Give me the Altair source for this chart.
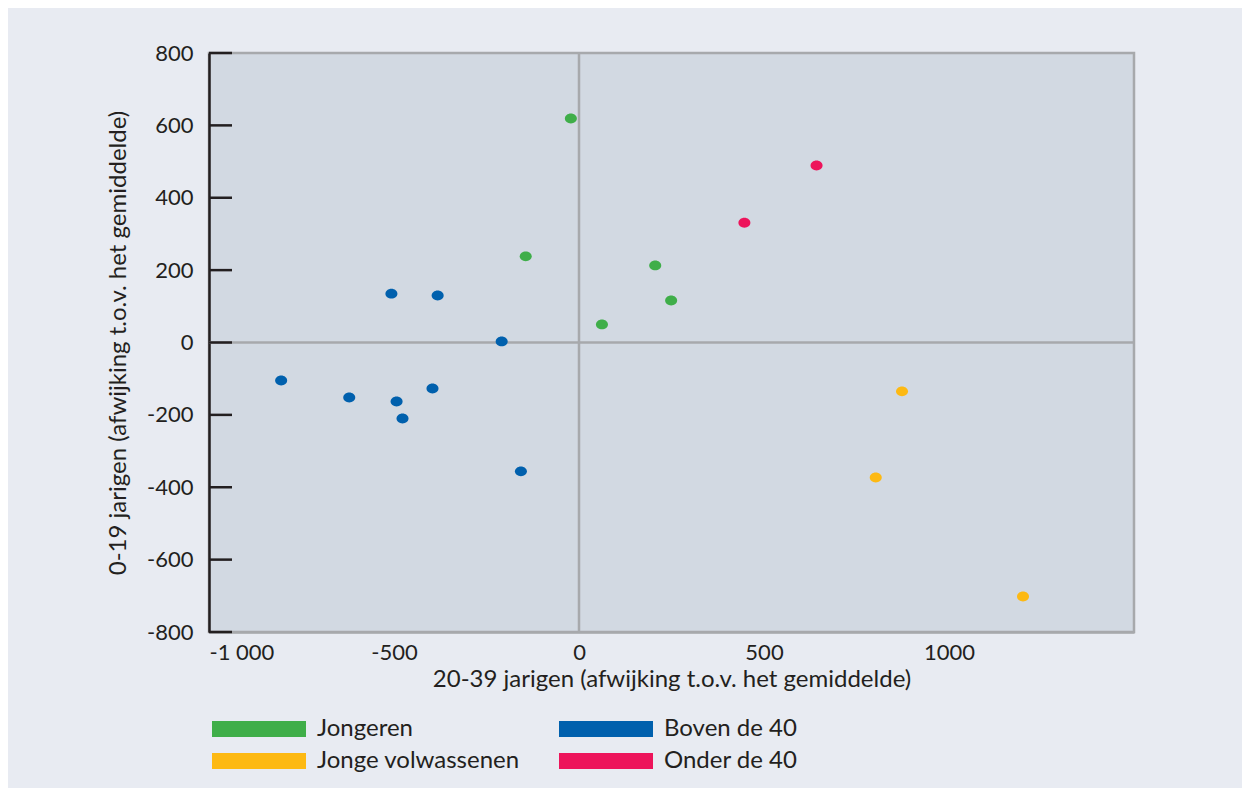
import altair as alt
import pandas as pd

groups = ["Jongeren", "Jonge volwassenen", "Boven de 40", "Onder de 40"]
colors = ["#3fae49", "#fdb913", "#0060ad", "#ed145b"]

jong_x = [-22, -144, 206, 249, 62]
jong_y = [619, 238, 213, 116, 50]
boven_x = [-805, -621, -507, -382, -209, -396, -493, -477, -157]
boven_y = [-105, -152, 135, 130, 3, -127, -163, -210, -356]
onder_x = [447, 642]
onder_y = [331, 489]
jv_x = [873, 802, 1200]
jv_y = [-135, -373, -702]

x_ticks = [-1000, -500, 0, 500, 1000]
y_ticks = [-800, -600, -400, -200, 0, 200, 400, 600, 800]

rows = []
for g, xs, ys in [("Jongeren", jong_x, jong_y), ("Boven de 40", boven_x, boven_y),
                  ("Onder de 40", onder_x, onder_y), ("Jonge volwassenen", jv_x, jv_y)]:
    for a, b in zip(xs, ys):
        rows.append({"x": a, "y": b, "groep": g})
df = pd.DataFrame(rows)

FONT = "Lato"
TXT = "#231f20"
GRAY = "#a7a9ac"

xscale = alt.Scale(domain=[-1000, 1500], nice=False, zero=False)
yscale = alt.Scale(domain=[-800, 800], nice=False, zero=False)

ellipse = "M-1,0A1,0.82,0,1,1,1,0A1,0.82,0,1,1,-1,0Z"
legend_rect = "M-5.875,-1H5.875V1H-5.875Z"
lbl = "datum.value == -1000 ? '-1 000' : '' + datum.value"

points = alt.Chart(df).mark_point(filled=True, opacity=1, shape=ellipse, size=144).encode(
    x=alt.X("x:Q", scale=xscale,
            title="20-39 jarigen (afwijking t.o.v. het gemiddelde)",
            axis=alt.Axis(values=x_ticks, grid=False, ticks=False, labelExpr=lbl,
                          domainColor=GRAY, domainWidth=2.5,
                          labelPadding=10, titlePadding=4)),
    y=alt.Y("y:Q", scale=yscale,
            title="0-19 jarigen (afwijking t.o.v. het gemiddelde)",
            axis=alt.Axis(values=y_ticks, grid=False, ticks=False, labelExpr=lbl,
                          domainColor=TXT, domainWidth=2.5,
                          labelPadding=16, titlePadding=16)),
    color=alt.Color("groep:N", scale=alt.Scale(domain=groups, range=colors),
                    legend=alt.Legend(title=None, orient="none", legendX=-1, legendY=664,
                                      columns=2, symbolType=legend_rect, symbolSize=256,
                                      symbolOffset=39, symbolStrokeWidth=0,
                                      symbolOpacity=1, labelFontSize=24, labelColor=TXT,
                                      labelFont=FONT, labelOffset=46, columnPadding=35,
                                      rowPadding=8, labelLimit=400)),
)

zero_v = alt.Chart(pd.DataFrame({"x": [0]})).mark_rule(color=GRAY, strokeWidth=2.5).encode(
    x=alt.X("x:Q", scale=xscale))
zero_h = alt.Chart(pd.DataFrame({"y": [0]})).mark_rule(color=GRAY, strokeWidth=2.5).encode(
    y=alt.Y("y:Q", scale=yscale))
yticks = alt.Chart(pd.DataFrame({"y": y_ticks})).mark_rule(color=TXT, strokeWidth=2.5).encode(
    y=alt.Y("y:Q", scale=yscale), x=alt.value(0), x2=alt.value(23))

chart = alt.layer(zero_v, zero_h, yticks, points).properties(
    width=925, height=579,
    autosize=alt.AutoSizeParams(type="none"),
    padding={"left": 201, "top": 45, "right": 108, "bottom": 156},
    background="#e8ebf2",
).configure_view(
    fill="#d2d9e2", stroke=GRAY, strokeWidth=2.5
).configure_axis(
    labelFont=FONT, titleFont=FONT, labelFontSize=22, titleFontSize=24,
    labelColor=TXT, titleColor=TXT, titleFontWeight="normal"
)

chart.save("out.html", embed_options={"renderer": "svg", "actions": False})
